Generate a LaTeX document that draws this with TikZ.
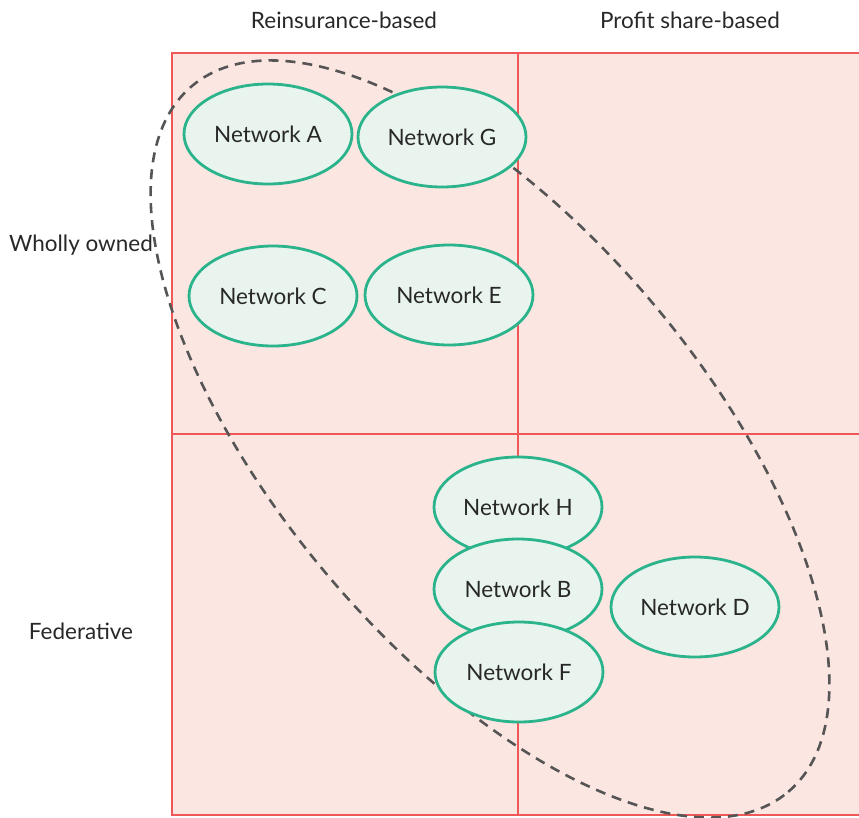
\documentclass[tikz,border=0pt]{standalone}
\usepackage{fontspec}
\setmainfont{Lato}
\usetikzlibrary{shapes.geometric}
\definecolor{gridred}{RGB}{240,88,88}
\definecolor{cellfill}{RGB}{252,230,226}
\definecolor{netline}{RGB}{43,180,140}
\definecolor{netfill}{RGB}{233,244,238}
\definecolor{dashgray}{RGB}{85,85,85}
\definecolor{txt}{RGB}{40,40,40}
\tikzset{
  net/.style={ellipse, draw=netline, fill=netfill, line width=2.8pt,
    minimum width=168pt, minimum height=100pt, inner sep=0pt,
    text=txt, font=\fontsize{22.5}{26}\selectfont},
  axislabel/.style={text=txt, font=\fontsize{22.5}{26}\selectfont, inner sep=0pt},
  gridline/.style={draw=gridred, line width=2.6pt}
}
\begin{document}
\begin{tikzpicture}[x=1pt,y=-1pt]
\useasboundingbox (0,0) rectangle (859,817);
\fill[cellfill] (172,53) rectangle (862,815);
\draw[gridline] (862,53) -- (172,53) -- (172,815) -- (862,815);
\draw[gridline] (518,53) -- (518,815);
\draw[gridline] (172,434) -- (862,434);
\draw[dashgray, line width=2.6pt, dash pattern=on 10pt off 7pt, rotate around={-49.8:(490,439)}]
  (490,439) ellipse [x radius=462pt, y radius=212pt];
\node[axislabel] (colA) at (344,20) {Reinsurance-based};
\node[axislabel] (colB) at (690,20) {Profit share-based};
\node[axislabel] (rowA) at (81,245) {Wholly owned};
\node[axislabel] (rowB) at (81,631) {Federative};
\node[net] (A) at (268,134) {Network A};
\node[net] (G) at (442,137) {Network G};
\node[net] (C) at (273,296) {Network C};
\node[net] (E) at (449,295) {Network E};
\node[net] (H) at (518,507) {Network H};
\node[net] (B) at (518,589) {Network B};
\node[net] (F) at (519,672) {Network F};
\node[net] (D) at (695,607) {Network D};
\end{tikzpicture}
\end{document}
